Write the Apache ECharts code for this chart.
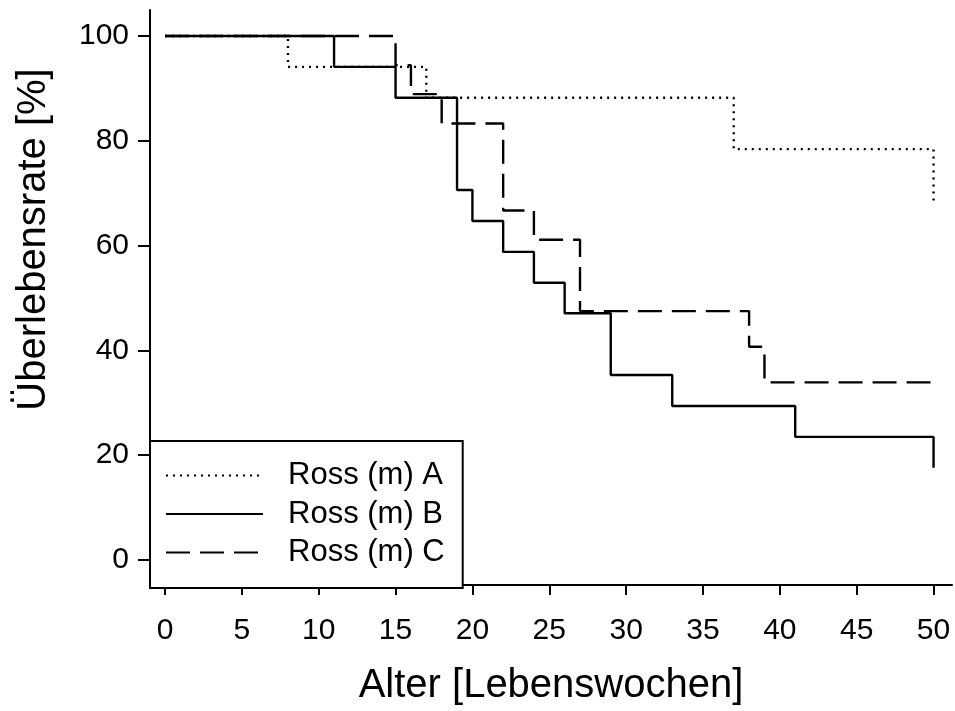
<!DOCTYPE html>
<html>
<head>
<meta charset="utf-8">
<script src="https://cdn.jsdelivr.net/npm/echarts@6/dist/echarts.min.js"></script>
<style>
  html, body { margin: 0; padding: 0; background: #fff; }
  #chart { width: 955px; height: 711px; }
</style>
</head>
<body>
<div id="chart"></div>
<script>
// ---- data ----
var seriesNames = ['Ross (m) A', 'Ross (m) B', 'Ross (m) C'];
var timesA = [0, 8, 17, 37, 50];
var survA  = [100, 94.1, 88.2, 78.4, 68.6];
var timesB = [0, 11, 15, 19, 20, 22, 24, 26, 29, 33, 41, 50];
var survB  = [100, 94.1, 88.2, 70.6, 64.7, 58.8, 52.9, 47.1, 35.3, 29.4, 23.5, 17.6];
var timesC = [0, 15, 16, 18, 22, 24, 27, 38, 39, 50];
var survC  = [100, 94.4, 88.9, 83.3, 66.7, 61.1, 47.5, 40.7, 33.9, 33.9];
var xTicks = [0, 5, 10, 15, 20, 25, 30, 35, 40, 45, 50];
var yTicks = [0, 20, 40, 60, 80, 100];
var xTitle = 'Alter [Lebenswochen]';
var yTitle = 'Überlebensrate [%]';

function pairs(xs, ys) { return xs.map(function (x, i) { return [x, ys[i]]; }); }

var FONT = '"Liberation Sans", Arial, sans-serif';
var chart = echarts.init(document.getElementById('chart'), null, { renderer: 'canvas' });
chart.setOption({
  animation: false,
  backgroundColor: '#ffffff',
  grid: { left: 150, right: 3, top: 10, bottom: 125, containLabel: false },
  xAxis: {
    type: 'value', min: -0.975, max: 51.2,
    splitLine: { show: false },
    axisLine: { onZero: false, lineStyle: { color: '#000', width: 2 } },
    axisTick: { customValues: xTicks, length: 10, lineStyle: { color: '#000', width: 2 } },
    axisLabel: { customValues: xTicks, margin: 31, fontSize: 30, color: '#000', fontFamily: FONT },
    name: xTitle, nameLocation: 'middle', nameGap: 81,
    nameTextStyle: { fontSize: 40, color: '#000', fontFamily: FONT }
  },
  yAxis: {
    type: 'value', min: -4.76, max: 104.95,
    splitLine: { show: false },
    axisLine: { onZero: false, lineStyle: { color: '#000', width: 2 } },
    axisTick: { customValues: yTicks, length: 12, lineStyle: { color: '#000', width: 2 } },
    axisLabel: { customValues: yTicks, margin: 21, fontSize: 30, color: '#000', fontFamily: FONT },
    name: yTitle, nameLocation: 'middle', nameGap: 96,
    nameTextStyle: { fontSize: 40, color: '#000', fontFamily: FONT, padding: [0, 0, 0, 116] }
  },
  legend: {
    orient: 'vertical', left: 150, top: 441,
    data: seriesNames,
    itemWidth: 97, itemHeight: 14, itemGap: 7.5,
    padding: [19, 18, 20, 15],
    borderColor: '#000', borderWidth: 2, backgroundColor: '#fff',
    itemStyle: { opacity: 0 },
    textStyle: { fontSize: 31, lineHeight: 30, color: '#000', fontFamily: FONT, padding: [0, 0, 0, 20] }
  },
  series: [
    { name: seriesNames[0], type: 'line', step: 'end', symbol: 'none', data: pairs(timesA, survA),
      lineStyle: { color: '#000', width: 2.4, type: [2, 5] }, itemStyle: { color: '#000' } },
    { name: seriesNames[1], type: 'line', step: 'end', symbol: 'none', data: pairs(timesB, survB),
      lineStyle: { color: '#000', width: 2.4, type: 'solid' }, itemStyle: { color: '#000' } },
    { name: seriesNames[2], type: 'line', step: 'end', symbol: 'none', data: pairs(timesC, survC),
      lineStyle: { color: '#000', width: 2.4, type: [24, 10] }, itemStyle: { color: '#000' } }
  ]
});
</script>
</body>
</html>
